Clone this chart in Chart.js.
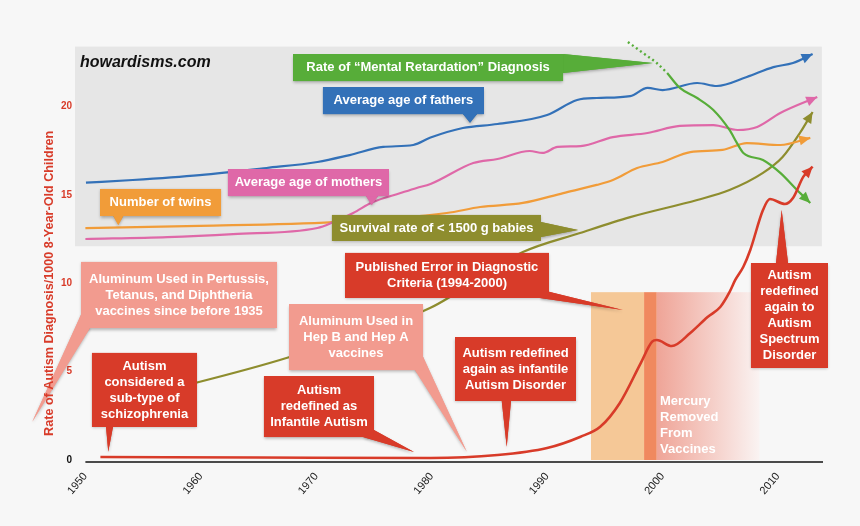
<!DOCTYPE html>
<html>
<head>
<meta charset="utf-8">
<title>Rate of Autism Diagnosis</title>
<script src="https://cdn.jsdelivr.net/npm/chart.js@4.4.1/dist/chart.umd.min.js"></script>
<style>
  html, body { margin: 0; padding: 0; background: #f7f7f7; }
  #wrap { width: 860px; height: 526px; }
</style>
</head>
<body>
<div id="wrap"><canvas id="myChart" width="860" height="526"></canvas></div>
<script>
// Axis ticks
const xTickYears = [1950, 1960, 1970, 1980, 1990, 2000, 2010];
const yTickValues = [0, 5, 10, 15, 20];

// Rate of autism diagnosis per 1000 8-year-old children
const autismYears = [1951.3, 1965, 1979.9, 1985.7, 1990.0, 1992.9, 1994.6, 1996.3, 1998.1, 1999.1, 1999.5, 2000.8, 2002.4, 2003.9, 2005.0, 2005.8, 2006.3, 2007.0, 2007.6, 2008.7, 2009.3, 2010.6, 2011.3, 2012.2, 2013.0];
const autismRate = [0.17, 0.14, 0.11, 0.28, 0.68, 1.32, 1.88, 3.23, 5.47, 6.70, 6.79, 6.45, 7.19, 8.09, 8.66, 9.5, 10.19, 10.94, 11.89, 14.15, 14.77, 14.49, 14.83, 16.04, 16.60];

// Average age of fathers (drawn on the same scale)
const fatherYears = [1950.05, 1954.1, 1959.9, 1965.7, 1970.1, 1972.9, 1975.8, 1978.4, 1979.9, 1982.7, 1985.7, 1990.0, 1992.6, 1994.3, 1997.2, 1998.7, 2000.0, 2003.0, 2004.7, 2007.3, 2009.6, 2011.3, 2013.0];
const fatherAge = [15.70, 15.85, 16.13, 16.53, 16.87, 17.26, 17.72, 17.83, 18.25, 18.79, 19.02, 19.53, 20.38, 20.49, 20.60, 21.06, 20.94, 21.34, 21.17, 21.68, 22.24, 22.47, 22.98];

// Average age of mothers
const motherYears = [1950.0, 1957.1, 1962.8, 1970.1, 1971.5, 1973.2, 1974.9, 1977.3, 1978.7, 1979.9, 1983.6, 1985.7, 1988.5, 1989.6, 1990.9, 1992.9, 1995.7, 1998.7, 2001.5, 2004.4, 2006.5, 2008.2, 2010.2, 2013.4];
const motherAge = [12.51, 12.62, 12.79, 13.13, 13.47, 13.98, 14.60, 15.11, 15.40, 15.62, 16.81, 17.04, 17.49, 17.38, 17.72, 17.77, 18.28, 18.51, 18.91, 18.96, 18.68, 18.85, 19.64, 20.55];

// Number of twins
const twinYears = [1950.0, 1959.9, 1971.5, 1981.3, 1984.2, 1987.9, 1991.4, 1994.3, 1995.7, 1997.8, 2000.0, 2002.4, 2005.2, 2007.3, 2010.2, 2012.8];
const twinCount = [13.13, 13.25, 13.47, 13.98, 14.32, 14.55, 15.11, 15.57, 15.85, 16.53, 16.87, 17.43, 17.55, 17.94, 17.83, 18.23];

// Survival rate of < 1500 g babies
const survivalYears = [1951.3, 1959.5, 1967.7, 1979.85, 1987.9, 1992.85, 1997.2, 2003.0, 2005.8, 2008.7, 2010.4, 2011.9, 2013.0];
const survivalRate = [3.11, 4.36, 5.83, 8.60, 11.77, 12.85, 13.75, 14.72, 15.28, 16.25, 17.15, 18.51, 19.70];

// Rate of "Mental Retardation" diagnosis (dotted start, then solid)
const retardEarlyYears = [1997.0, 1998.3, 1999.5, 2000.4];
const retardEarlyRate = [23.66, 23.04, 22.47, 21.91];
const retardYears = [2000.4, 2001.5, 2003.0, 2004.4, 2005.8, 2006.45, 2007.0, 2008.7, 2010.2, 2011.65, 2012.8];
const retardRate = [21.91, 21.06, 20.49, 19.81, 18.68, 17.94, 17.38, 16.98, 16.25, 15.28, 14.55];

const RED = "#d83b29";
const SALMON = "#f29b8f";
const GREEN = "#57ad39";
const BLUE = "#3371b8";
const PINK = "#df68a8";
const ORANGE = "#f19c39";
const OLIVE = "#8e8d2e";
const FONT = "'Liberation Sans', Arial, Helvetica, sans-serif";

// Shaded areas (year from/to, value from/to)
const bands = [
  { x0: 1949.1, x1: 2013.8, y0: 12.1, y1: 23.4, color: "#e6e6e6" },
  { x0: 1993.8, x1: 1998.4, y0: 0, y1: 9.5, color: "#f5c897" },
  { x0: 1998.4, x1: 1999.5, y0: 0, y1: 9.5, color: "#f0895f" },
  { x0: 1999.5, x1: 2008.4, y0: 0, y1: 9.5, gradient: ["#efa497", "rgba(250,243,242,1)"] },
];

// Callout boxes: box = [year from, year to, value top, value bottom]
const callouts = [
  { lines: ["Rate of \u201cMental Retardation\u201d Diagnosis"], color: GREEN,
    box: [1967.99, 1991.38, 22.98, 21.45], tip: [1999.17, 22.47], base: [[1991.38, 22.98], [1991.38, 21.91]] },
  { lines: ["Average age of fathers"], color: BLUE,
    box: [1970.58, 1984.53, 21.11, 19.58], tip: [1983.32, 19.09], base: [[1982.71, 19.58], [1983.93, 19.58]] },
  { lines: ["Average age of mothers"], color: PINK,
    box: [1962.35, 1976.30, 16.47, 14.94], tip: [1974.80, 14.43], base: [[1974.31, 14.94], [1975.35, 14.94]] },
  { lines: ["Number of twins"], color: ORANGE,
    box: [1951.27, 1961.75, 15.34, 13.81], tip: [1952.85, 13.30], base: [[1952.42, 13.81], [1953.28, 13.81]] },
  { lines: ["Survival rate of < 1500 g babies"], color: OLIVE,
    box: [1971.36, 1989.47, 13.87, 12.40], tip: [1992.68, 13.02], base: [[1989.47, 13.47], [1989.47, 12.62]] },
  { lines: ["Aluminum Used in Pertussis,", "Tetanus, and Diphtheria", "vaccines since before 1935"], color: SALMON,
    box: [1949.62, 1966.60, 11.21, 7.47], tip: [1945.40, 2.17], base: [[1949.68, 8.30], [1950.40, 7.47]] },
  { lines: ["Aluminum Used in", "Hep B and Hep A", "vaccines"], color: SALMON,
    box: [1967.64, 1979.25, 8.83, 5.09], tip: [1983.04, 0.47], base: [[1978.55, 5.09], [1979.25, 5.85]] },
  { lines: ["Autism", "considered a", "sub-type of", "schizophrenia"], color: RED,
    box: [1950.57, 1959.67, 6.06, 1.87], tip: [1951.98, 0.47], base: [[1951.79, 1.87], [1952.39, 1.87]] },
  { lines: ["Autism", "redefined as", "Infantile Autism"], color: RED,
    box: [1965.47, 1975.00, 4.75, 1.30], tip: [1978.47, 0.45], base: [[1974.05, 1.30], [1975.00, 1.70]] },
  { lines: ["Published Error in Diagnostic", "Criteria (1994-2000)"], color: RED,
    box: [1972.49, 1990.16, 11.72, 9.17], tip: [1996.57, 8.49], base: [[1990.16, 9.53], [1989.38, 9.17]] },
  { lines: ["Autism redefined", "again as infantile", "Autism Disorder"], color: RED,
    box: [1982.02, 1992.50, 6.96, 3.34], tip: [1986.50, 0.75], base: [[1986.07, 3.34], [1986.87, 3.34]] },
  { lines: ["Autism", "redefined", "again to", "Autism", "Spectrum", "Disorder"], color: RED,
    box: [2007.66, 2014.33, 11.15, 5.21], tip: [2010.32, 14.15], base: [[2009.83, 11.15], [2010.87, 11.15]] },
];

// Free text
const notes = [
  { lines: ["howardisms.com"], x: 1949.53, y: 22.24, font: "italic bold 16px " + FONT, color: "#111", baseline: "alphabetic" },
  { lines: ["Mercury", "Removed", "From", "Vaccines"], x: 1999.78, y: 3.30, font: "bold 13px " + FONT, color: "#ffffff", baseline: "middle" },
];

const toPoints = (xs, ys) => xs.map((x, i) => ({ x: x, y: ys[i] }));

const lineSet = (label, xs, ys, color, extra) => Object.assign({
  label: label,
  data: toPoints(xs, ys),
  borderColor: color,
  backgroundColor: color,
  borderWidth: 2.2,
  pointRadius: 0,
  fill: false,
  cubicInterpolationMode: "monotone",
  borderCapStyle: "butt",
}, extra || {});

const px = (chart, x, y) => [chart.scales.x.getPixelForValue(x), chart.scales.y.getPixelForValue(y)];

// Arrow head at the end of a line
function drawArrow(ctx, meta, color) {
  const pts = meta.data;
  const end = pts[pts.length - 1];
  const prev = pts[pts.length - 2];
  let fx = end.cp1x, fy = end.cp1y;
  if (fx === undefined || Math.hypot(end.x - fx, end.y - fy) < 0.5) {
    fx = prev.x; fy = prev.y;
  }
  const a = Math.atan2(end.y - fy, end.x - fx);
  const len = 11, half = 5;
  const bx = end.x - len * Math.cos(a), by = end.y - len * Math.sin(a);
  ctx.beginPath();
  ctx.moveTo(end.x, end.y);
  ctx.lineTo(bx + half * Math.sin(a), by - half * Math.cos(a));
  ctx.lineTo(bx - half * Math.sin(a), by + half * Math.cos(a));
  ctx.closePath();
  ctx.fillStyle = color;
  ctx.fill();
}

function fillCallout(ctx, chart, c) {
  const [l, t] = px(chart, c.box[0], c.box[2]);
  const [r, b] = px(chart, c.box[1], c.box[3]);
  const tip = px(chart, c.tip[0], c.tip[1]);
  const b1 = px(chart, c.base[0][0], c.base[0][1]);
  const b2 = px(chart, c.base[1][0], c.base[1][1]);
  ctx.fillStyle = c.color;
  ctx.beginPath();
  ctx.moveTo(b1[0], b1[1]);
  ctx.lineTo(tip[0], tip[1]);
  ctx.lineTo(b2[0], b2[1]);
  ctx.closePath();
  ctx.fill();
  ctx.fillRect(l, t, r - l, b - t);
  return [l, t, r, b];
}

const decorPlugin = {
  id: "decor",
  beforeDatasetsDraw(chart) {
    const ctx = chart.ctx;
    ctx.save();
    bands.forEach((band) => {
      const [l, t] = px(chart, band.x0, band.y1);
      const [r, b] = px(chart, band.x1, band.y0);
      if (band.gradient) {
        const g = ctx.createLinearGradient(l, 0, r, 0);
        g.addColorStop(0, band.gradient[0]);
        g.addColorStop(1, band.gradient[1]);
        ctx.fillStyle = g;
      } else {
        ctx.fillStyle = band.color;
      }
      ctx.fillRect(l, t, r - l, b - t);
    });
    ctx.restore();
  },
  afterDatasetsDraw(chart) {
    const ctx = chart.ctx;
    const area = chart.chartArea;
    ctx.save();

    // arrow heads
    chart.data.datasets.forEach((ds, i) => {
      if (ds.arrow) drawArrow(ctx, chart.getDatasetMeta(i), ds.borderColor);
    });

    // x axis line
    const x0 = chart.scales.x.getPixelForValue(xTickYears[0]);
    ctx.strokeStyle = "#111";
    ctx.lineWidth = 1.5;
    ctx.beginPath();
    ctx.moveTo(x0, area.bottom + 2);
    ctx.lineTo(area.right, area.bottom + 2);
    ctx.stroke();

    // callouts
    callouts.forEach((c) => {
      ctx.save();
      ctx.shadowColor = "rgba(0,0,0,0.28)";
      ctx.shadowBlur = 3;
      ctx.shadowOffsetY = 1.5;
      fillCallout(ctx, chart, c);
      ctx.restore();
      const [l, t, r, b] = fillCallout(ctx, chart, c);
      ctx.fillStyle = "#ffffff";
      ctx.font = "bold 13px " + FONT;
      ctx.textAlign = "center";
      ctx.textBaseline = "middle";
      const cy = (t + b) / 2 - (c.lines.length - 1) * 8;
      c.lines.forEach((s, k) => ctx.fillText(s, (l + r) / 2, cy + k * 16));
    });

    // notes
    notes.forEach((n) => {
      const [x, y] = px(chart, n.x, n.y);
      ctx.fillStyle = n.color;
      ctx.font = n.font;
      ctx.textAlign = "left";
      ctx.textBaseline = n.baseline;
      n.lines.forEach((s, k) => ctx.fillText(s, x, y + k * 16));
    });

    // y axis title
    ctx.save();
    ctx.translate(50, chart.scales.y.getPixelForValue(10));
    ctx.rotate(-Math.PI / 2);
    ctx.fillStyle = RED;
    ctx.font = "bold 12.6px " + FONT;
    ctx.textAlign = "center";
    ctx.textBaseline = "middle";
    ctx.fillText("Rate of Autism Diagnosis/1000 8-Year-Old Children", 0, 0);
    ctx.restore();

    ctx.restore();
  },
};

const ctx = document.getElementById("myChart");

new Chart(ctx, {
  type: "line",
  data: {
    datasets: [
      lineSet("Autism", autismYears, autismRate, RED, { borderWidth: 2.6, arrow: true }),
      lineSet("Mental Retardation (early)", retardEarlyYears, retardEarlyRate, GREEN, { borderDash: [2, 3], borderWidth: 2.4 }),
      lineSet("Mental Retardation", retardYears, retardRate, GREEN, { arrow: true }),
      lineSet("Average age of fathers", fatherYears, fatherAge, BLUE, { arrow: true }),
      lineSet("Average age of mothers", motherYears, motherAge, PINK, { arrow: true }),
      lineSet("Number of twins", twinYears, twinCount, ORANGE, { arrow: true }),
      lineSet("Survival rate of < 1500 g babies", survivalYears, survivalRate, OLIVE, { arrow: true }),
    ],
  },
  options: {
    responsive: false,
    animation: false,
    events: [],
    layout: { padding: { top: 36, right: 37, left: 0, bottom: 0 } },
    plugins: {
      legend: { display: false },
      tooltip: { enabled: false },
    },
    scales: {
      x: {
        type: "linear",
        min: 1949.1,
        max: 2013.9,
        grid: { display: false, drawTicks: false },
        border: { display: false },
        afterBuildTicks: (scale) => {
          scale.ticks = xTickYears.map((v) => ({ value: v }));
        },
        afterFit: (scale) => {
          scale.height = 66;
        },
        ticks: {
          autoSkip: false,
          minRotation: 50,
          maxRotation: 50,
          padding: 10,
          color: "#222",
          font: { family: FONT, size: 11 },
          callback: (v) => String(v),
        },
      },
      y: {
        min: 0,
        max: 24,
        grid: { display: false, drawTicks: false },
        border: { display: false },
        afterBuildTicks: (scale) => {
          scale.ticks = yTickValues.map((v) => ({ value: v }));
        },
        afterFit: (scale) => {
          scale.width = 75;
        },
        ticks: {
          padding: 3,
          color: (c) => (c.tick && c.tick.value === 0 ? "#111" : RED),
          font: { family: FONT, size: 10, weight: "bold" },
        },
      },
    },
  },
  plugins: [decorPlugin],
});
</script>
</body>
</html>
